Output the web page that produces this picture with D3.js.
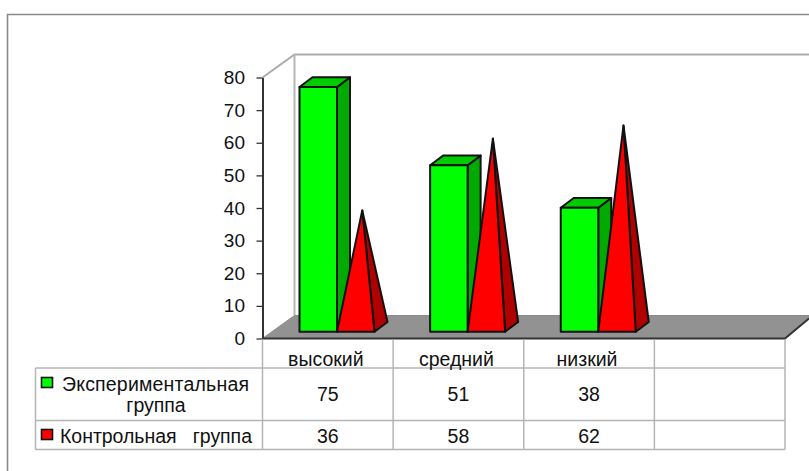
<!DOCTYPE html>
<html><head><meta charset="utf-8">
<script src="https://cdn.jsdelivr.net/npm/d3@7"></script>
<style>html,body{margin:0;padding:0;background:#fff;overflow:hidden}svg{display:block}text{font-family:"Liberation Sans",Arial,sans-serif;fill:#111}</style>
</head><body><svg id="c" width="809" height="471"></svg>
<script>
const categories = ["высокий","средний","низкий",""];
const experimental = [75,51,38];
const control = [36,58,62];
const yTicks = [0,10,20,30,40,50,60,70,80];
const seriesNames = [["Экспериментальная","группа"],["Контрольная   группа"]];

const svg = d3.select("#c");
const x = d3.scaleBand().domain(categories).range([262.5,785]);
const y = d3.scaleLinear().domain([0,80]).range([338.5,77.5]);
const DX = 32, DY = 23;
const baseY = v => y(v) - 6.8;
const barL = c => x(c) + 37;
const barW = 37.5, dx = 13, dy = 9.7;
const pts = a => a.map(p=>p.join(",")).join(" ");
const poly = (g,p,fill,sw=2,stroke="#111") => g.append("polygon").attr("points",pts(p)).attr("fill",fill).attr("stroke",stroke).attr("stroke-width",sw).attr("stroke-linejoin","round");

// outer frame
svg.append("path").attr("d","M7.5,471V14.5H809").attr("fill","none").attr("stroke","#8a8a8a").attr("stroke-width",1.6);

// walls
const x0=x.range()[0], x1=x.range()[1], y0=y(0), yT=y(80);
svg.append("path").attr("d",`M${x0},${yT}L${x0+DX},${yT-DY}H809`).attr("fill","none").attr("stroke","#ababab").attr("stroke-width",2);
svg.append("path").attr("d",`M${x0+DX},${yT-DY}V${y0-DY}`).attr("fill","none").attr("stroke","#b5b5b5").attr("stroke-width",2);
// floor
svg.append("polygon").attr("points",pts([[x0,y0],[x0+DX,y0-DY],[809,y0-DY],[809,y0-20],[x1,y0]])).attr("fill","#929292").attr("stroke","#8a8a8a").attr("stroke-width",1);
svg.append("path").attr("d",`M${x0},${y0}H${x1}L809,${y0-20}`).attr("fill","none").attr("stroke","#333").attr("stroke-width",2);

// y axis
const yAxis = d3.axisLeft(y).tickValues(yTicks).tickSize(6).tickSizeOuter(0);
const ya = svg.append("g").attr("transform",`translate(${x0},0)`).call(yAxis);
ya.select(".domain").attr("stroke","#333").attr("stroke-width",2);
ya.selectAll(".tick line").attr("stroke","#333").attr("stroke-width",1.3);
ya.selectAll(".tick text").attr("x",-17.5).style("font-size","19px").attr("fill","#111").style("font-family",'"Liberation Sans",Arial,sans-serif');

// marks
const g = svg.append("g");
experimental.forEach((v,i)=>{
  const c=categories[i], L=barL(c), R=L+barW, b=baseY(0), t=baseY(v);
  poly(g,[[R,t],[R+dx,t-dy],[R+dx,b-dy],[R,b]],"#00aa00");
  poly(g,[[L,t],[L+dx,t-dy],[R+dx,t-dy],[R,t]],"#00cc00");
  poly(g,[[L,t],[R,t],[R,b],[L,b]],"#00ff00");
  const pL=R, pR=R+barW, v2=control[i];
  const apex=[(pL+pR+dx)/2, baseY(v2)-dy/2+1];
  poly(g,[[pR,b],[pR+dx,b-dy],apex],"#b00000");
  poly(g,[[pL,b],[pR,b],apex],"#ff0000");
});

// data table
const rows=[368,420.5,449.5], tL=35.5;
const t = svg.append("g");
const ln=(a,b,c,d,col="#b4b4b4",w=1.5)=>t.append("line").attr("x1",a).attr("y1",b).attr("x2",c).attr("y2",d).attr("stroke",col).attr("stroke-width",w);
rows.forEach(r=>ln(tL,r,x1,r));
ln(tL,rows[0],tL,rows[2]);
categories.forEach(c=>ln(x(c),y0+1,x(c),rows[2]));
ln(x1,y0+1,x1,rows[2]);
const label=(tx,ty,s,size=19.5,anchor="middle")=>t.append("text").attr("x",tx).attr("y",ty).attr("text-anchor",anchor).style("font-size",size+"px").text(s);
categories.forEach(c=>{ if(c) label(x(c)+x.bandwidth()/2-2,366,c); });
experimental.forEach((v,i)=>label(x(categories[i])+x.bandwidth()/2,401,v));
control.forEach((v,i)=>label(x(categories[i])+x.bandwidth()/2,442.5,v));
label(155.5,391,seriesNames[0][0]).attr("textLength",187);
label(156,412,seriesNames[0][1]);
label(60,442.5,seriesNames[1][0],19.5,"start").style("white-space","pre").attr("textLength",192);
t.append("rect").attr("x",41.5).attr("y",377.5).attr("width",11).attr("height",10).attr("fill","#00ff00").attr("stroke","#111").attr("stroke-width",1.6);
t.append("rect").attr("x",41.5).attr("y",429.5).attr("width",11).attr("height",10).attr("fill","#ff0000").attr("stroke","#111").attr("stroke-width",1.6);
</script></body></html>
